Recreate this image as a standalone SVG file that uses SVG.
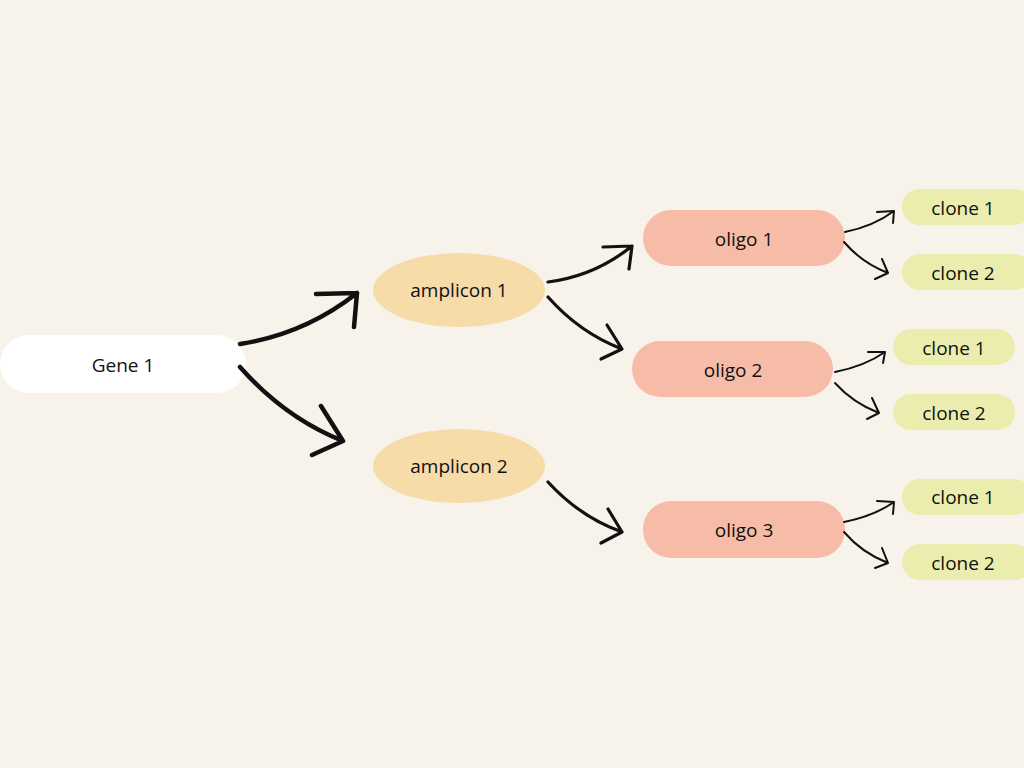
<svg xmlns="http://www.w3.org/2000/svg" width="1024" height="768" viewBox="0 0 1024 768">
<style>
text{font-family:"Open Sans","Lato","Liberation Sans",sans-serif;font-size:19px;fill:#111;text-anchor:middle;dominant-baseline:central}
.gene{fill:#ffffff}
.amp{fill:#F6DCA8}
.oligo{fill:#F7BCA7}
.clone{fill:#EAEDAD}
.c{fill:none;stroke:#111;stroke-linecap:round;stroke-linejoin:round}
.big{stroke-width:4.5}
.mid{stroke-width:3.2}
.small{stroke-width:2}
</style>
<rect width="1024" height="768" fill="#F7F3EB"/>
<g id="gene1"><rect class="gene" x="0" y="335" width="246" height="58" rx="29"/><text x="123" y="365">Gene 1</text></g>
<g id="amplicon1"><ellipse class="amp" cx="459" cy="290" rx="86" ry="37"/><text x="459" y="290">amplicon 1</text></g>
<g id="amplicon2"><ellipse class="amp" cx="459" cy="466" rx="86" ry="37"/><text x="459" y="466">amplicon 2</text></g>
<g id="oligo1"><rect class="oligo" x="643" y="210" width="202" height="56" rx="28"/><text x="744" y="239">oligo 1</text></g>
<g id="oligo2"><rect class="oligo" x="632" y="341" width="201" height="56" rx="28"/><text x="733" y="370">oligo 2</text></g>
<g id="oligo3"><rect class="oligo" x="643" y="501" width="202" height="57" rx="28"/><text x="744" y="530">oligo 3</text></g>
<g id="clone1a"><rect class="clone" x="902" y="189" width="130" height="36" rx="18"/><text x="963" y="208">clone 1</text></g>
<g id="clone2a"><rect class="clone" x="902" y="254" width="130" height="36" rx="18"/><text x="963" y="273">clone 2</text></g>
<g id="clone1b"><rect class="clone" x="893" y="329" width="122" height="36" rx="18"/><text x="954" y="348">clone 1</text></g>
<g id="clone2b"><rect class="clone" x="893" y="394" width="122" height="36" rx="18"/><text x="954" y="413">clone 2</text></g>
<g id="clone1c"><rect class="clone" x="902" y="479" width="130" height="36" rx="18"/><text x="963" y="497">clone 1</text></g>
<g id="clone2c"><rect class="clone" x="902" y="544" width="130" height="36" rx="18"/><text x="963" y="563">clone 2</text></g>
<g id="connectors">
<path class="c big" d="M240,344 Q305,334 357,293 M316,294 L357,293 L354,327"/>
<path class="c big" d="M240,367 Q285,418 343,441 M321,406 L343,441 L312,455"/>
<path class="c mid" d="M548,282 Q595,276 632,246 M603,247 L632,246 L629,269"/>
<path class="c mid" d="M548,297 Q580,333 622,349 M607,325 L622,349 L601,359"/>
<path class="c mid" d="M548,482 Q580,517 622,532 M608,509 L622,532 L601,543"/>
<path class="c small" d="M845,232 Q874,226 894,211 M877,212 L894,211 L893,223"/>
<path class="c small" d="M844,242 Q862,263 888,273 M882,259 L888,273 L875,279"/>
<path class="c small" d="M835,372 Q865,366 885,352 M868,352 L885,352 L883,363"/>
<path class="c small" d="M835,383 Q853,403 879,413 M872,398 L879,413 L867,419"/>
<path class="c small" d="M844,522 Q874,516 894,502 M877,501 L894,502 L893,514"/>
<path class="c small" d="M844,532 Q862,553 888,563 M882,548 L888,563 L875,568"/>
</g>
</svg>
